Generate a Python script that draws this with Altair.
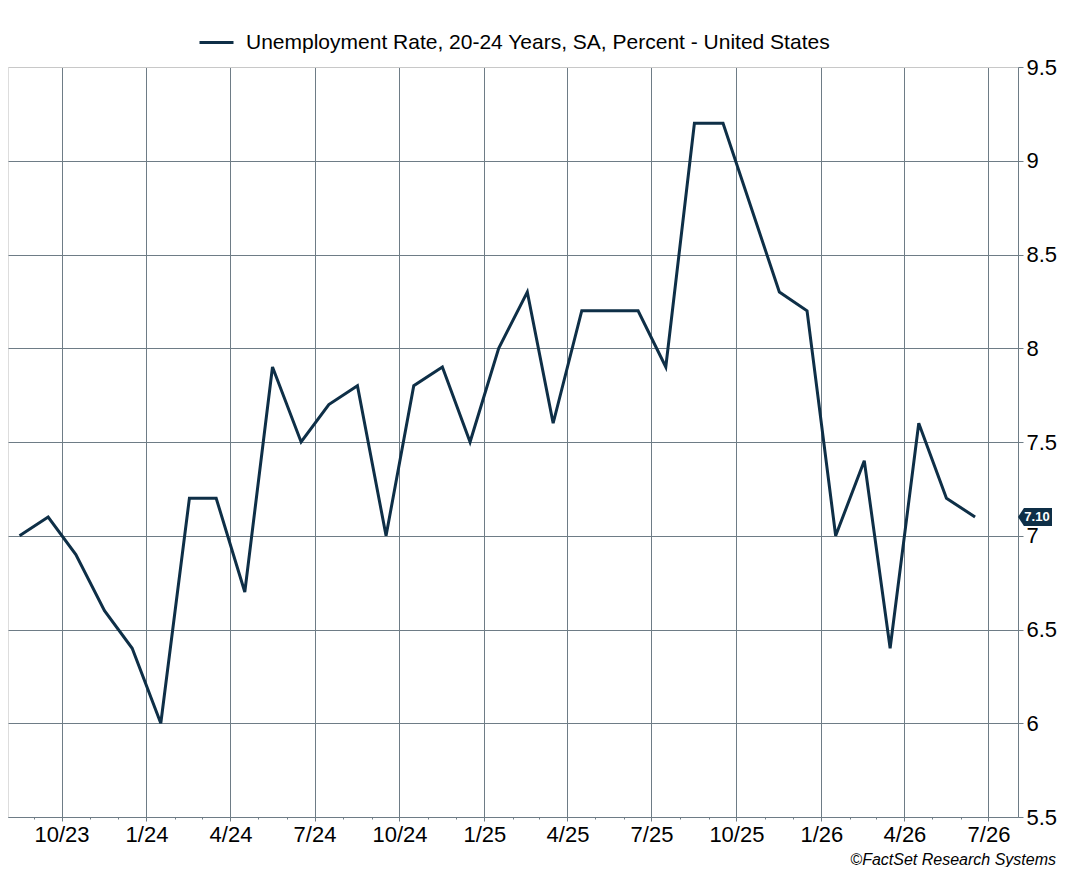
import altair as alt
import pandas as pd

# ---- data ----
months = [
    "2023-08", "2023-09", "2023-10", "2023-11", "2023-12",
    "2024-01", "2024-02", "2024-03", "2024-04", "2024-05", "2024-06",
    "2024-07", "2024-08", "2024-09", "2024-10", "2024-11", "2024-12",
    "2025-01", "2025-02", "2025-03", "2025-04", "2025-05", "2025-06",
    "2025-07", "2025-08", "2025-09", "2025-11", "2025-12",
    "2026-01", "2026-02", "2026-03", "2026-04", "2026-05", "2026-06",
]
rates = [
    7.0, 7.1, 6.9, 6.6, 6.4,
    6.0, 7.2, 7.2, 6.7, 7.9, 7.5,
    7.7, 7.8, 7.0, 7.8, 7.9, 7.5,
    8.0, 8.3, 7.6, 8.2, 8.2, 8.2,
    7.9, 9.2, 9.2, 8.3, 8.2,
    7.0, 7.4, 6.4, 7.6, 7.2, 7.1,
]
series_name = "Unemployment Rate, 20-24 Years, SA, Percent - United States"
y_ticks = [5.5, 6, 6.5, 7, 7.5, 8, 8.5, 9, 9.5]
copyright_text = "\u00a9FactSet Research Systems"

df = pd.DataFrame({
    "date": [m + "-16T12:00:00" for m in months],
    "value": rates,
    "series": series_name,
})
last_df = df.iloc[[-1]]

# ---- style ----
FONT = "Liberation Sans"
NAVY = "#0e2f47"
GRID = "#6e7c86"
LIGHT = "#c8c8c8"
W, H = 1010, 750

tick_months = []
y, m = 2023, 9
while (y, m) <= (2026, 7):
    tick_months.append(alt.DateTime(year=y, month=m, date=1))
    m += 1
    if m > 12:
        m = 1
        y += 1

quarter = "month(datum.value) % 3 == 0"

x_enc = alt.X(
    "date:T",
    title=None,
    scale=alt.Scale(domain=[alt.DateTime(year=2023, month=8, date=4),
                            alt.DateTime(year=2026, month=8, date=2)]),
    axis=alt.Axis(
        values=tick_months,
        labelExpr=f"{quarter} ? timeFormat(datum.value, '%-m/%y') : ''",
        grid=True,
        gridColor=GRID,
        gridWidth=1,
        gridOpacity={"condition": {"test": quarter, "value": 1}, "value": 0},
        tickSize={"condition": {"test": quarter, "value": 4}, "value": 2},
        tickColor=GRID,
        domainColor=GRID,
        labelFont=FONT,
        labelFontSize=22,
        labelColor="black",
        labelPadding=3,
        labelFlush=False,
        labelOverlap=False,
    ),
)

y_axis = alt.Axis(
    orient="right",
    values=y_ticks,
    format="~f",
    grid=True,
    gridColor={"condition": {"test": "datum.value == 9.5", "value": LIGHT}, "value": GRID},
    gridWidth=1,
    tickSize=5,
    tickColor=GRID,
    domainColor=GRID,
    labelFont=FONT,
    labelFontSize=22,
    labelColor="black",
    labelPadding=3,
    labelFlush=False,
    labelOverlap=False,
    title=None,
)

line = alt.Chart(df).mark_line(strokeWidth=3).encode(
    x=x_enc,
    y=alt.Y("value:Q", scale=alt.Scale(domain=[5.5, 9.5], nice=False, zero=False), axis=y_axis),
    color=alt.Color(
        "series:N",
        scale=alt.Scale(range=[NAVY]),
        legend=alt.Legend(
            title=None,
            orient="none",
            legendX=190,
            legendY=-43,
            direction="horizontal",
            symbolType="stroke",
            symbolSize=1156,
            symbolStrokeWidth=3,
            labelFont=FONT,
            labelFontSize=21,
            labelColor="black",
            labelOffset=11,
            labelLimit=2000,
            padding=0,
        ),
    ),
)

BADGE = "M-1,0L-0.65,-0.53L1,-0.53L1,0.53L-0.65,0.53Z"
badge = alt.Chart(last_df).mark_point(
    shape=BADGE, size=1156, filled=True, fill=NAVY, opacity=1, strokeWidth=0
).encode(x=alt.value(W + 17), y=alt.Y("value:Q"))

badge_text = alt.Chart(last_df).mark_text(
    color="white", font=FONT, fontWeight="bold", fontSize=13, align="center", baseline="middle"
).encode(x=alt.value(W + 19), y=alt.Y("value:Q"), text=alt.Text("value:Q", format=".2f"))

credit = alt.Chart(pd.DataFrame({"t": [copyright_text]})).mark_text(
    align="right", baseline="alphabetic", font=FONT, fontSize=16, fontStyle="italic", color="black"
).encode(x=alt.value(W + 38), y=alt.value(H + 48), text="t:N")

chart = alt.layer(line, badge, badge_text, credit).properties(
    width=W,
    height=H,
    autosize=alt.AutoSizeParams(type="none"),
    padding={"left": 0, "top": 59, "right": 40, "bottom": 50},
).configure_view(stroke=LIGHT, strokeWidth=1).configure(background="white")

chart.save("out.html", embed_options={"renderer": "svg", "actions": False})
